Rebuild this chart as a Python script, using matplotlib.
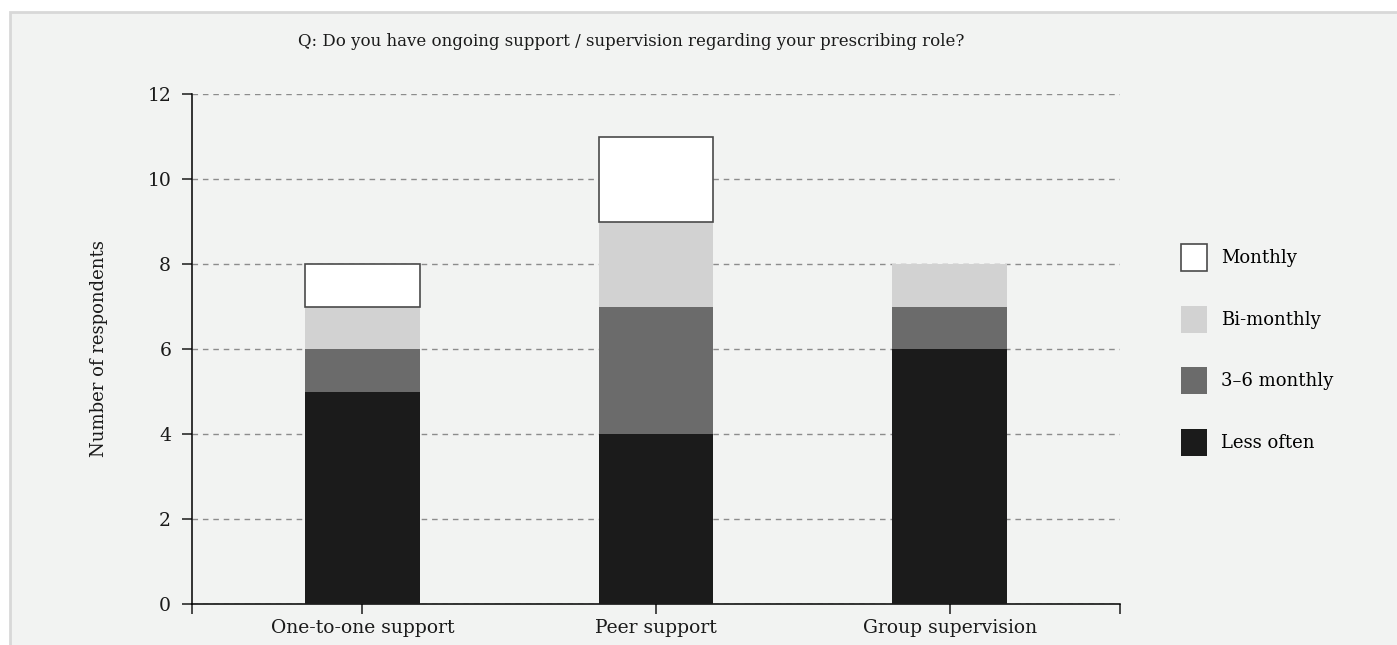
import matplotlib
matplotlib.use("Agg")
import matplotlib.pyplot as plt
from matplotlib.patches import Rectangle, Patch
import numpy as np

categories = ["One-to-one support", "Peer support", "Group supervision"]
series_names = ["Less often", "3\u20136 monthly", "Bi-monthly", "Monthly"]
less_often = [5, 4, 6]
three_six_monthly = [1, 3, 1]
bi_monthly = [1, 2, 1]
monthly = [1, 2, 0]
y_ticks = [0, 2, 4, 6, 8, 10, 12]
title = "Q: Do you have ongoing support / supervision regarding your prescribing role?"
ylabel = "Number of respondents"

colors = ["#1b1b1b", "#6b6b6b", "#d2d2d2", "#ffffff"]
edges = [None, None, None, "#4a4a4a"]

plt.rcParams['font.family'] = ['DejaVu Serif']

fig = plt.figure(figsize=(13.97, 6.45), dpi=100)
fig.patch.set_facecolor("white")
bg = Rectangle((10 / 1397, -0.01), 1.02, 1 - 12 / 645 + 0.01, transform=fig.transFigure,
               facecolor="#f2f3f2", edgecolor="#d8d8d8", linewidth=2, zorder=-10)
fig.patches.append(bg)

ax = fig.add_axes([192 / 1397, 1 - 604 / 645, (1120 - 192) / 1397, (604 - 94) / 645])
ax.set_facecolor("none")

x = np.arange(len(categories))
width = 0.39
bottom = np.zeros(len(categories))
for vals, name, c, ec in zip([less_often, three_six_monthly, bi_monthly, monthly],
                             series_names, colors, edges):
    vals = np.array(vals, dtype=float)
    if ec is None:
        ax.bar(x, vals, width, bottom=bottom, color=c, linewidth=0, zorder=3)
    else:
        mask = vals > 0
        ax.bar(x[mask], vals[mask], width, bottom=bottom[mask], facecolor=c,
               edgecolor=ec, linewidth=1.2, zorder=3)
    bottom += vals

ax.set_xlim(-0.58, 2.58)
ax.set_ylim(0, 12)
ax.set_yticks(y_ticks)
ax.set_xticks([-0.58, 0, 1, 2, 2.58])
ax.set_xticklabels(["", categories[0], categories[1], categories[2], ""])
ax.yaxis.grid(True, linestyle=(0, (4, 3.5)), color="#8c8c8c", linewidth=1)
ax.set_axisbelow(True)
for s in ["top", "right"]:
    ax.spines[s].set_visible(False)
ax.spines["left"].set_bounds(0, 12)
ax.spines["left"].set_linewidth(1.1)
ax.spines["bottom"].set_linewidth(1.1)
ax.tick_params(axis="both", direction="out", length=7, width=1.1, labelsize=13.5, colors="#1a1a1a")
ax.tick_params(axis="y", pad=8)
ax.tick_params(axis="x", pad=4)
ax.set_ylabel(ylabel, fontsize=13, labelpad=28, color="#1a1a1a")

fig.text(631 / 1397, 1 - 42 / 645, title, ha="center", va="center", fontsize=12, color="#1a1a1a")

handles = [Patch(facecolor=colors[i], edgecolor=(edges[i] or colors[i]), linewidth=1.2 if edges[i] else 0)
           for i in [3, 2, 1, 0]]
labels = [series_names[i] for i in [3, 2, 1, 0]]
fig.legend(handles, labels, loc="upper left", bbox_to_anchor=(1181 / 1397, 1 - 244 / 645),
           frameon=False, fontsize=13, handlelength=1.45, handleheight=1.93,
           labelspacing=1.91, handletextpad=0.75, borderaxespad=0, borderpad=0)

fig.savefig("out.png", dpi=100, facecolor=fig.get_facecolor())
